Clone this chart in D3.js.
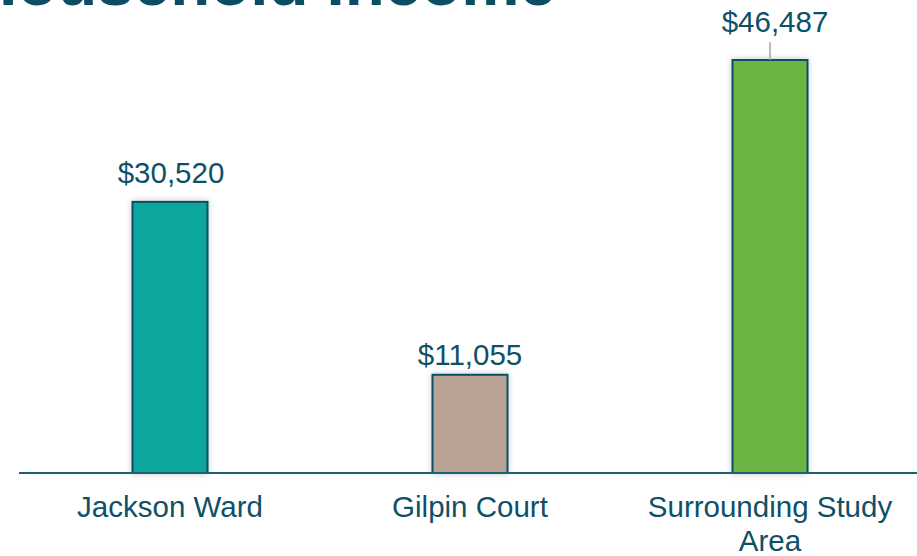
<!DOCTYPE html>
<html>
<head>
<meta charset="utf-8">
<script src="https://cdn.jsdelivr.net/npm/d3@7"></script>
<style>
  html, body { margin: 0; padding: 0; background: #ffffff; }
  svg { display: block; font-family: "Liberation Sans", Arial, sans-serif; }
</style>
</head>
<body>
<div id="chart"></div>
<script>
// ---- data ----
const categories = ["Jackson Ward", "Gilpin Court", "Surrounding Study Area"];
const categoryLines = [["Jackson Ward"], ["Gilpin Court"], ["Surrounding Study", "Area"]];
const values = [30520, 11055, 46487];
const valueLabels = ["$30,520", "$11,055", "$46,487"];
const barColors = ["#0aa79f", "#b8a294", "#6db543"];
const titleText = "Household Income";

// ---- layout ----
const W = 917, H = 556;
const baseY = 473;
const labelGap = [19, 10, 28];     // label baseline distance above bar top
const labelDx = [1, 0, 5];
const leader = [false, false, true];
const textColor = "#0e5067";
const strokeColor = "#0d4e63";

const svg = d3.select("#chart").append("svg")
  .attr("width", W).attr("height", H);

const defs = svg.append("defs");
const f = defs.append("filter").attr("id", "shadow")
  .attr("x", "-30%").attr("y", "-10%").attr("width", "160%").attr("height", "120%");
f.append("feDropShadow").attr("dx", 0).attr("dy", 0).attr("stdDeviation", 3)
  .attr("flood-color", "#000").attr("flood-opacity", 0.22);

const x = d3.scaleBand().domain(categories).range([20, 920])
  .paddingInner(0.75).paddingOuter(0.375);
const y = d3.scaleLinear().domain([0, 46487]).range([baseY, 60]);

// title (cropped at top, as in the reference)
svg.append("text")
  .attr("x", -30).attr("y", 5)
  .attr("font-size", 65.5).attr("font-weight", "bold")
  .attr("fill", "#0c4d63")
  .text(titleText);

// bars
svg.append("g").selectAll("rect").data(values).join("rect")
  .attr("x", (d, i) => x(categories[i]))
  .attr("y", d => y(d))
  .attr("width", x.bandwidth())
  .attr("height", d => baseY - y(d))
  .attr("fill", (d, i) => barColors[i])
  .attr("stroke", strokeColor)
  .attr("stroke-width", 2)
  .attr("filter", "url(#shadow)");

// axis line
const axis = d3.axisBottom(x).tickSize(0).tickFormat("");
const ax = svg.append("g").attr("transform", `translate(0,${baseY})`).call(axis);
ax.select(".domain").remove();
svg.append("line")
  .attr("x1", 19).attr("x2", W).attr("y1", baseY).attr("y2", baseY)
  .attr("stroke", "#1e5f73").attr("stroke-width", 2);

// leader lines
values.forEach((v, i) => {
  if (!leader[i]) return;
  const cx = x(categories[i]) + x.bandwidth() / 2;
  svg.append("line")
    .attr("x1", cx).attr("x2", cx)
    .attr("y1", y(v) - 18).attr("y2", y(v))
    .attr("stroke", "#a6a6a6").attr("stroke-width", 1.5);
});

// value labels
svg.append("g").selectAll("text").data(values).join("text")
  .attr("x", (d, i) => x(categories[i]) + x.bandwidth() / 2 + labelDx[i])
  .attr("y", (d, i) => y(d) - labelGap[i])
  .attr("text-anchor", "middle")
  .attr("font-size", 29.5)
  .attr("fill", textColor)
  .text((d, i) => valueLabels[i]);

// category labels
const cat = svg.append("g").selectAll("text").data(categories).join("text")
  .attr("x", d => x(d) + x.bandwidth() / 2)
  .attr("y", 517)
  .attr("text-anchor", "middle")
  .attr("font-size", 29.5)
  .attr("fill", textColor);
cat.each(function(d, i) {
  d3.select(this).selectAll("tspan").data(categoryLines[i]).join("tspan")
    .attr("x", x(d) + x.bandwidth() / 2)
    .attr("dy", (t, j) => j === 0 ? 0 : 34)
    .text(t => t);
});
</script>
</body>
</html>
